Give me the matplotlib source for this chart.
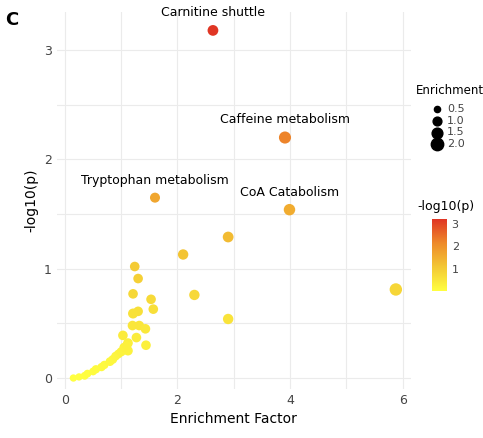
import matplotlib
matplotlib.use('Agg')
import matplotlib.pyplot as plt
from matplotlib.colors import LinearSegmentedColormap
import numpy as np

# Enrichment factor, -log10(p), enrichment (dot size)
enrich_factor = [2.63, 3.91, 1.60, 3.99, 2.90, 2.10, 2.30, 2.90, 5.88,
                 1.24, 1.30, 1.21, 1.53, 1.57, 1.30, 1.21, 1.20, 1.32, 1.43,
                 1.03, 1.27, 1.44, 1.12, 1.12,
                 0.15, 0.25, 0.35, 0.40, 0.50, 0.55, 0.65, 0.70, 0.80, 0.85,
                 0.90, 0.95, 1.00, 1.05, 1.10]
neglog_p = [3.18, 2.20, 1.65, 1.54, 1.29, 1.13, 0.76, 0.54, 0.81,
            1.02, 0.91, 0.77, 0.72, 0.63, 0.61, 0.59, 0.48, 0.48, 0.45,
            0.39, 0.37, 0.30, 0.32, 0.25,
            0.00, 0.01, 0.02, 0.04, 0.06, 0.08, 0.10, 0.12, 0.15, 0.17,
            0.20, 0.22, 0.24, 0.28, 0.30]
enrichment = [1.5, 1.9, 1.3, 1.7, 1.5, 1.4, 1.4, 1.4, 2.0,
              1.2, 1.2, 1.2, 1.2, 1.2, 1.2, 1.3, 1.2, 1.2, 1.2,
              1.2, 1.2, 1.2, 1.2, 1.2,
              0.7, 0.7, 0.8, 0.8, 0.8, 0.9, 0.9, 0.9, 1.0, 1.0,
              1.0, 1.0, 1.1, 1.1, 1.1]
labels = {0: 'Carnitine shuttle', 1: 'Caffeine metabolism',
          2: 'Tryptophan metabolism', 3: 'CoA Catabolism'}

cmap = LinearSegmentedColormap.from_list('yor', ['#FFFF40', '#F3C834', '#EE8A2A', '#E03524'])

def size_of(e):
    return 40 * np.asarray(e)

fig = plt.figure(figsize=(4.83, 4.38), dpi=100)
ax = fig.add_axes([0.117, 0.112, 0.734, 0.861])
ax.set_xlim(-0.15, 6.15)
ax.set_ylim(-0.1, 3.35)
ax.set_xticks([0, 2, 4, 6])
ax.set_xticks([1, 3, 5], minor=True)
ax.set_yticks([0, 1, 2, 3])
ax.set_yticks([0.5, 1.5, 2.5], minor=True)
ax.grid(True, which='both', color='#ebebeb', lw=0.8)
ax.set_axisbelow(True)
for s in ax.spines.values():
    s.set_visible(False)
ax.tick_params(which='both', length=0, labelsize=9, colors='#444444')

sc = ax.scatter(enrich_factor, neglog_p, s=size_of(enrichment), c=neglog_p,
                cmap=cmap, vmin=0, vmax=3.2, edgecolors='none', zorder=3)
for i, txt in labels.items():
    ax.annotate(txt, (enrich_factor[i], neglog_p[i]), xytext=(0, 8),
                textcoords='offset points', ha='center', va='bottom',
                fontsize=9, annotation_clip=False)

ax.set_xlabel('Enrichment Factor', fontsize=10)
ax.set_ylabel('-log10(p)', fontsize=10)
fig.text(0.01, 0.975, 'C', fontsize=13, fontweight='bold', va='top')

# size legend
handles = [ax.scatter([], [], s=size_of(v), c='black') for v in [0.5, 1.0, 1.5, 2.0]]
fig.text(0.86, 0.785, 'Enrichment', fontsize=8.5)
fig.legend(handles, ['0.5', '1.0', '1.5', '2.0'],
           loc='upper left', bbox_to_anchor=(0.875, 0.78), frameon=False,
           fontsize=8, handletextpad=0.3, labelspacing=0.15,
           borderpad=0.2, handlelength=1.2, labelcolor='#444444')

cax = fig.add_axes([0.895, 0.335, 0.03, 0.165])
cb = fig.colorbar(sc, cax=cax, ticks=[1, 2, 3])
cb.outline.set_visible(False)
cax.tick_params(length=0, labelsize=8, colors='#444444')
fig.text(0.865, 0.52, '-log10(p)', fontsize=9)

fig.savefig('out.png', dpi=100)
